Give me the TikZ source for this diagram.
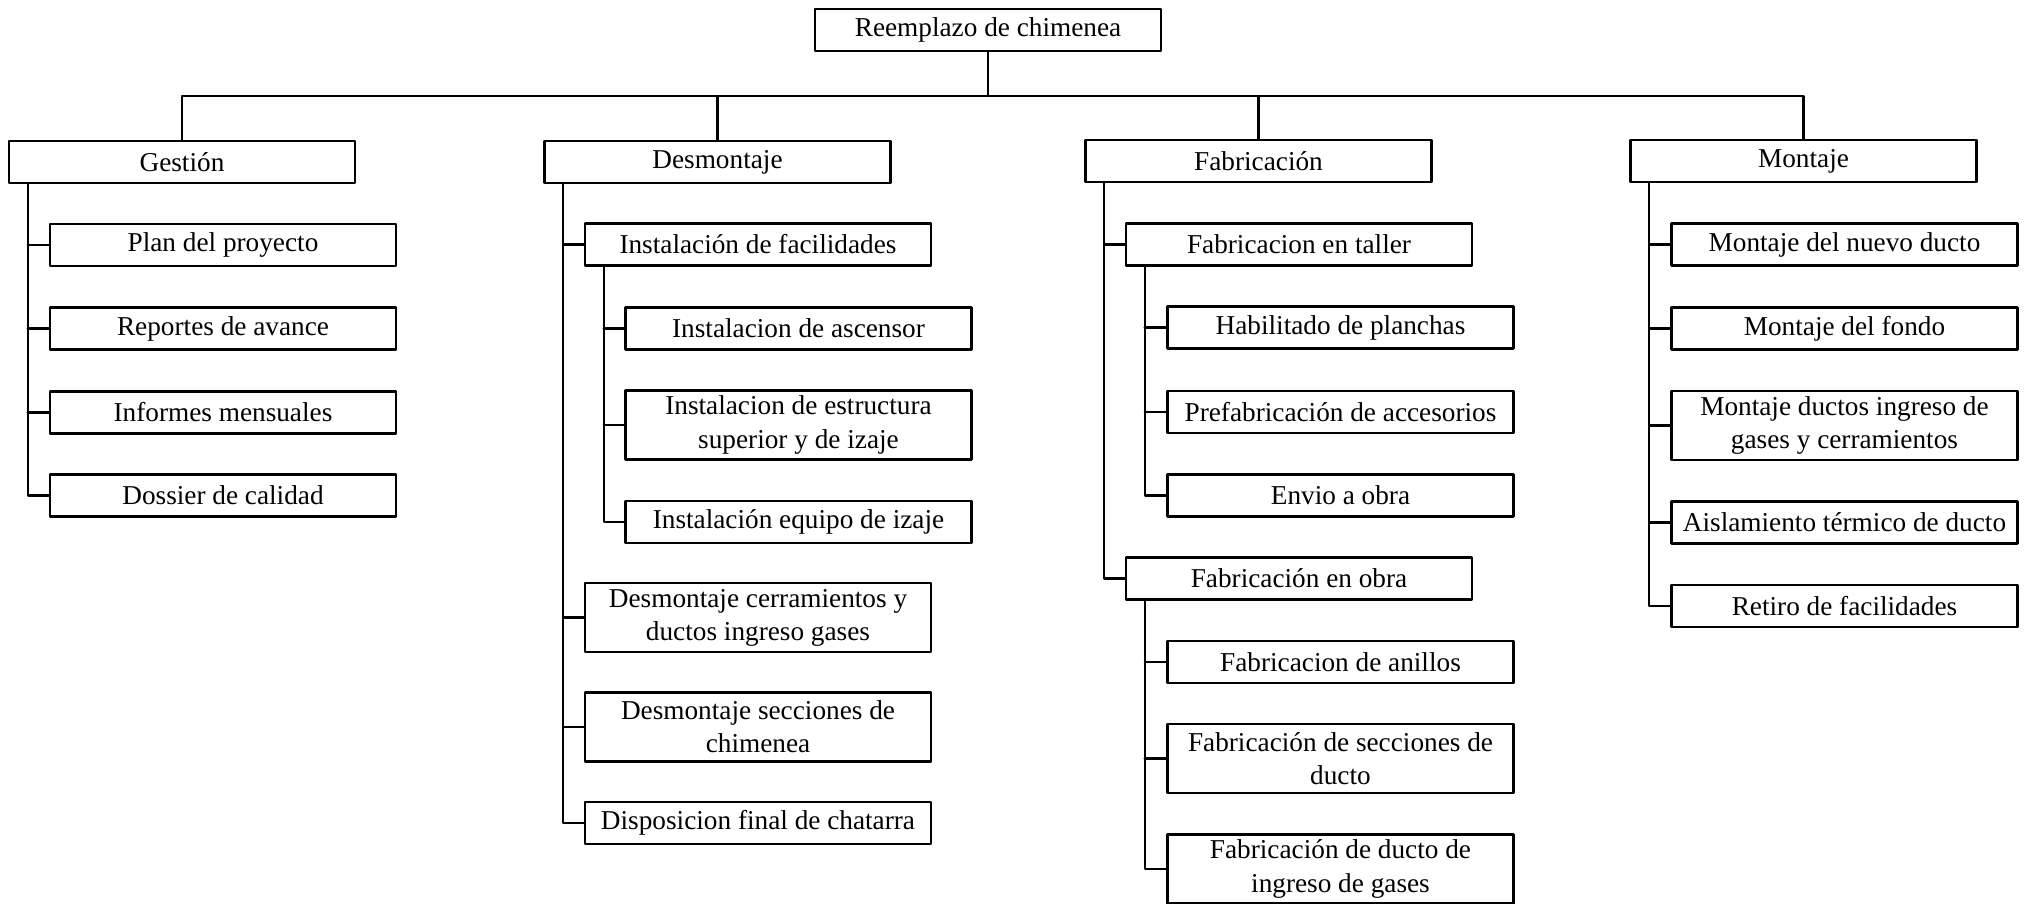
\documentclass[tikz,border=0pt]{standalone}
\usepackage{fontspec}
\setmainfont{Liberation Serif}
\begin{document}
\begin{tikzpicture}[x=0.01cm,y=-0.01cm,line cap=round,line join=round,
  box/.style={draw,line width=0.75pt,minimum width=3.46cm,minimum height=0.42cm,inner sep=1pt,align=center,font=\fontsize{7.75}{9.4}\selectfont},
  tall/.style={box,minimum height=0.69cm},
  link/.style={line width=0.6pt}]
  \useasboundingbox (0,0) rectangle (2035,904);
  % nivel 0 y 1
  \node[box] (root) at (988,30) {Reemplazo de chimenea};
  \node[box] (gest) at (182,162) {Gestión};
  \node[box] (desm) at (717.5,162) {Desmontaje};
  \node[box] (fabr) at (1258.5,161) {Fabricación};
  \node[box] (mont) at (1803.5,161) {Montaje};
  \coordinate (bus) at (988,96);
  \draw[link] (root.south) -- (root.south |- bus);
  \draw[link] (gest.north) -- (gest.north |- bus) -- (mont.north |- bus) -- (mont.north);
  \draw[link] (desm.north) -- (desm.north |- bus);
  \draw[link] (fabr.north) -- (fabr.north |- bus);
  % Gestion
  \node[box] (g1) at (223,245) {Plan del proyecto};
  \node[box] (g2) at (223,328.5) {Reportes de avance};
  \node[box] (g3) at (223,412.5) {Informes mensuales};
  \node[box] (g4) at (223,495.5) {Dossier de calidad};
  \coordinate (gt) at ([xshift=0.2cm]gest.south west);
  \draw[link] (gt) |- (g4.west);
  \foreach \n in {g1,g2,g3} \draw[link] (\n.west) -- (\n.west -| gt);
  % Desmontaje
  \node[box] (d1) at (758,244.5) {Instalación de facilidades};
  \node[box] (d11) at (798.5,328.5) {Instalacion de ascensor};
  \node[tall] (d12) at (798.5,425) {Instalacion de estructura\\superior y de izaje};
  \node[box] (d13) at (798.5,522) {Instalación equipo de izaje};
  \node[tall] (d2) at (758,617.5) {Desmontaje cerramientos y\\ductos ingreso gases};
  \node[tall] (d3) at (758,727) {Desmontaje secciones de\\chimenea};
  \node[box] (d4) at (758,823) {Disposicion final de chatarra};
  \coordinate (dt) at ([xshift=0.2cm]desm.south west);
  \draw[link] (dt) |- (d4.west);
  \foreach \n in {d1,d2,d3} \draw[link] (\n.west) -- (\n.west -| dt);
  \coordinate (dt1) at ([xshift=0.2cm]d1.south west);
  \draw[link] (dt1) |- (d13.west);
  \foreach \n in {d11,d12} \draw[link] (\n.west) -- (\n.west -| dt1);
  % Fabricacion
  \node[box] (f1) at (1299,244.5) {Fabricacion en taller};
  \node[box] (f11) at (1340.5,327.5) {Habilitado de planchas};
  \node[box] (f12) at (1340.5,412) {Prefabricación de accesorios};
  \node[box] (f13) at (1340.5,495.5) {Envio a obra};
  \node[box] (f2) at (1299,578.5) {Fabricación en obra};
  \node[box] (f21) at (1340.5,662) {Fabricacion de anillos};
  \node[tall] (f22) at (1340.5,758.5) {Fabricación de secciones de\\ducto};
  \node[tall] (f23) at (1340.5,869) {Fabricación de ducto de\\ingreso de gases};
  \coordinate (ft) at ([xshift=0.2cm]fabr.south west);
  \draw[link] (ft) |- (f2.west);
  \draw[link] (f1.west) -- (f1.west -| ft);
  \coordinate (ft1) at ([xshift=0.2cm]f1.south west);
  \draw[link] (ft1) |- (f13.west);
  \foreach \n in {f11,f12} \draw[link] (\n.west) -- (\n.west -| ft1);
  \coordinate (ft2) at ([xshift=0.2cm]f2.south west);
  \draw[link] (ft2) |- (f23.west);
  \foreach \n in {f21,f22} \draw[link] (\n.west) -- (\n.west -| ft2);
  % Montaje
  \node[box] (m1) at (1844.5,244.5) {Montaje del nuevo ducto};
  \node[box] (m2) at (1844.5,328.5) {Montaje del fondo};
  \node[tall] (m3) at (1844.5,425.5) {Montaje ductos ingreso de\\gases y cerramientos};
  \node[box] (m4) at (1844.5,522.5) {Aislamiento térmico de ducto};
  \node[box] (m5) at (1844.5,606) {Retiro de facilidades};
  \coordinate (mt) at ([xshift=0.2cm]mont.south west);
  \draw[link] (mt) |- (m5.west);
  \foreach \n in {m1,m2,m3,m4} \draw[link] (\n.west) -- (\n.west -| mt);
\end{tikzpicture}
\end{document}
